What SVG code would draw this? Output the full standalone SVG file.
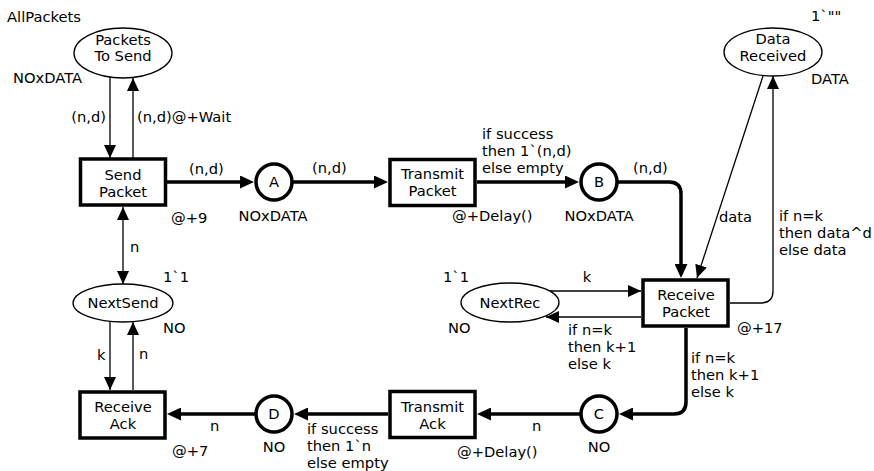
<svg xmlns="http://www.w3.org/2000/svg" width="874" height="471" viewBox="0 0 874 471">
  <defs>
    <style>
      text { font-family: "DejaVu Sans", Verdana, sans-serif; font-size: 14.7px; fill: #000; }
      .m { text-anchor: middle; }
      .e { text-anchor: end; }
      .place { fill: #fff; stroke: #000; stroke-width: 1.3; }
      .port { fill: #fff; stroke: #000; stroke-width: 3.5; }
      .trans { fill: #fff; stroke: #000; stroke-width: 3.5; }
      .thin { fill: none; stroke: #000; stroke-width: 1.3; marker-end: url(#ah); }
      .thick { fill: none; stroke: #000; stroke-width: 3.5; marker-end: url(#ahT); }
    </style>
    <marker id="ah" markerUnits="userSpaceOnUse" markerWidth="13" markerHeight="12" refX="13" refY="6" orient="auto-start-reverse">
      <path d="M0,0 L13,6 L0,12 z" fill="#000"/>
    </marker>
    <marker id="ahT" markerUnits="userSpaceOnUse" markerWidth="14" markerHeight="13" refX="10" refY="6.5" orient="auto">
      <path d="M0,0 L14,6.5 L0,13 z" fill="#000"/>
    </marker>
  </defs>
  <rect width="874" height="471" fill="#fff"/>

  <!-- arcs -->
  <g id="arcs">
    <path class="thin" d="M110,77 V158"/>
    <path class="thin" d="M133,158 V78"/>
    <path class="thin" d="M123,207 V284" marker-start="url(#ah)"/>
    <path class="thin" d="M110,321 V390"/>
    <path class="thin" d="M133,390 V322"/>
    <path class="thin" d="M549,291 H641"/>
    <path class="thin" d="M641,317 H546"/>
    <path class="thin" d="M763,76 L697,278"/>
    <path class="thin" d="M730,303 H761 Q773,303 773,291 V76"/>

    <path class="thick" d="M167,182 H250"/>
    <path class="thick" d="M292,182 H384"/>
    <path class="thick" d="M477,182 H575"/>
    <path class="thick" d="M617,182 H669 Q681,182 681,194 V274"/>
    <path class="thick" d="M686,328 V402 Q686,414 674,414 H623"/>
    <path class="thick" d="M581,414 H481"/>
    <path class="thick" d="M388,414 H298"/>
    <path class="thick" d="M256,414 H171"/>
  </g>

  <!-- arc inscriptions -->
  <g id="inscriptions">
    <text x="106" y="122" class="e">(n,d)</text>
    <text x="137" y="122">(n,d)@+Wait</text>
    <text x="189" y="174">(n,d)</text>
    <text x="312" y="173">(n,d)</text>
    <text x="482" y="139">if success<tspan x="482" dy="17">then 1`(n,d)</tspan><tspan x="482" dy="17">else empty</tspan></text>
    <text x="633" y="173">(n,d)</text>
    <text x="719" y="222">data</text>
    <text x="779" y="221">if n=k<tspan x="779" dy="17">then data^d</tspan><tspan x="779" dy="17">else data</tspan></text>
    <text x="587" y="282" class="m">k</text>
    <text x="568" y="335">if n=k<tspan x="568" dy="17">then k+1</tspan><tspan x="568" dy="17">else k</tspan></text>
    <text x="691" y="363">if n=k<tspan x="691" dy="17">then k+1</tspan><tspan x="691" dy="17">else k</tspan></text>
    <text x="532" y="431">n</text>
    <text x="307" y="434">if success<tspan x="307" dy="17">then 1`n</tspan><tspan x="307" dy="17">else empty</tspan></text>
    <text x="210" y="431">n</text>
    <text x="97" y="360">k</text>
    <text x="139" y="359">n</text>
    <text x="130" y="252">n</text>
  </g>

  <!-- places -->
  <g id="PacketsToSend">
    <ellipse class="place" cx="123" cy="53" rx="49" ry="25"/>
    <text x="123" y="45" class="m">Packets</text>
    <text x="123" y="61" class="m">To Send</text>
    <text x="7" y="22">AllPackets</text>
    <text x="13" y="83">NOxDATA</text>
  </g>
  <g id="A">
    <circle class="port" cx="274" cy="182" r="18"/>
    <text x="274" y="187" class="m">A</text>
    <text x="273" y="221" class="m">NOxDATA</text>
  </g>
  <g id="B">
    <circle class="port" cx="599" cy="182" r="18"/>
    <text x="599" y="187" class="m">B</text>
    <text x="599" y="221" class="m">NOxDATA</text>
  </g>
  <g id="DataReceived">
    <ellipse class="place" cx="773" cy="52" rx="49" ry="24"/>
    <text x="773" y="44" class="m">Data</text>
    <text x="773" y="61" class="m">Received</text>
    <text x="811" y="21">1`""</text>
    <text x="811" y="84">DATA</text>
  </g>
  <g id="NextRec">
    <ellipse class="place" cx="510" cy="302.5" rx="49" ry="19.5"/>
    <text x="510" y="308" class="m">NextRec</text>
    <text x="443" y="282">1`1</text>
    <text x="448" y="333">NO</text>
  </g>
  <g id="NextSend">
    <ellipse class="place" cx="123" cy="303" rx="50" ry="19"/>
    <text x="123" y="308" class="m">NextSend</text>
    <text x="163" y="282">1`1</text>
    <text x="163" y="333">NO</text>
  </g>
  <g id="C">
    <circle class="port" cx="599" cy="414" r="18"/>
    <text x="599" y="419" class="m">C</text>
    <text x="599" y="452" class="m">NO</text>
  </g>
  <g id="D">
    <circle class="port" cx="274" cy="414" r="18"/>
    <text x="274" y="419" class="m">D</text>
    <text x="274" y="452" class="m">NO</text>
  </g>

  <!-- transitions -->
  <g id="SendPacket">
    <rect class="trans" x="80.5" y="159" width="85" height="46"/>
    <text x="123" y="180" class="m">Send</text>
    <text x="123" y="197" class="m">Packet</text>
    <text x="171" y="223">@+9</text>
  </g>
  <g id="TransmitPacket">
    <rect class="trans" x="390" y="159.5" width="85" height="46"/>
    <text x="432.5" y="179" class="m">Transmit</text>
    <text x="432.5" y="196" class="m">Packet</text>
    <text x="452" y="221">@+Delay()</text>
  </g>
  <g id="ReceivePacket">
    <rect class="trans" x="643" y="280" width="85" height="46"/>
    <text x="686" y="300" class="m">Receive</text>
    <text x="686" y="317" class="m">Packet</text>
    <text x="737" y="333">@+17</text>
  </g>
  <g id="TransmitAck">
    <rect class="trans" x="390" y="391.5" width="85" height="46"/>
    <text x="432.5" y="412" class="m">Transmit</text>
    <text x="432.5" y="429" class="m">Ack</text>
    <text x="457" y="457">@+Delay()</text>
  </g>
  <g id="ReceiveAck">
    <rect class="trans" x="80" y="392" width="85" height="46"/>
    <text x="123" y="412" class="m">Receive</text>
    <text x="123" y="429" class="m">Ack</text>
    <text x="172" y="456">@+7</text>
  </g>
</svg>
